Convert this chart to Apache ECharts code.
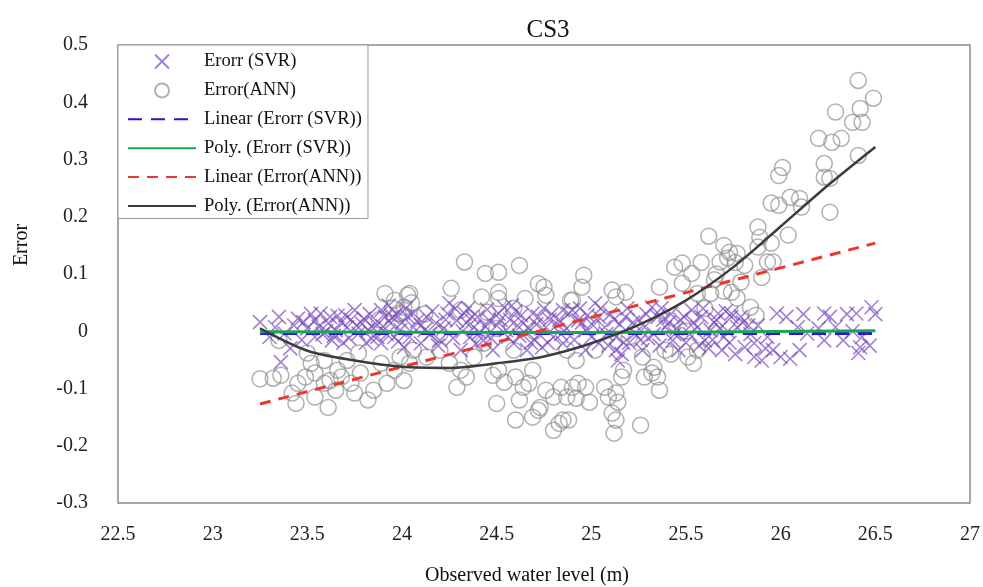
<!DOCTYPE html>
<html>
<head>
<meta charset="utf-8">
<script src="https://cdn.jsdelivr.net/npm/echarts@6/dist/echarts.min.js"></script>
<style>
  html, body { margin: 0; padding: 0; background: #fff; overflow: hidden; }
  #main { width: 983px; height: 587px; }
</style>
</head>
<body>
<div id="main"></div>
<script>
// scatter points: [water level, error]
var svrErr = [
  [23.25,0.016],[23.35,0.025],[23.33,0.007],[23.38,-0.004],[23.41,-0.03],[23.36,-0.054],[23.48,0.016],[23.54,0.019],
  [23.57,0.031],[23.61,0.014],[23.65,0.002],[23.68,0.016],[23.71,0.007],[23.75,0.037],[23.77,-0.004],[23.82,0.002],
  [23.86,0.014],[23.89,0.037],[23.91,0.025],[23.94,0.014],[23.96,-0.01],[23.99,0.002],[24.03,0.025],[24.06,0.007],
  [23.54,-0.01],[23.63,-0.016],[23.89,-0.021],[24.01,-0.028],[23.5,0.005],[23.58,-0.005],[23.66,0.027],[23.72,-0.012],
  [23.8,0.022],[23.84,-0.013],[23.93,0.045],[23.97,0.03],[24.0,0.015],[23.6,0.0],[23.7,0.028],[23.45,0.022],
  [23.85,0.005],[23.92,-0.005],[23.79,0.013],
  [23.3,-0.01],[23.43,0.01],[23.47,-0.015],[23.52,0.03],[23.56,0.008],[23.62,0.025],[23.64,-0.008],[23.69,-0.02],
  [23.73,0.02],[23.76,0.01],[23.81,-0.02],[23.83,0.03],[23.87,-0.01],[23.9,0.008],[23.95,0.025],[23.98,-0.018],
  [24.06,0.031],[24.13,0.025],[24.18,0.014],[24.24,0.031],[24.29,0.019],[24.33,0.031],[24.38,0.007],[24.43,-0.016],
  [24.46,0.019],[24.51,0.031],[24.55,0.002],[24.59,-0.021],[24.64,0.014],[24.69,0.031],[24.72,0.025],[24.76,0.007],
  [24.8,-0.01],[24.85,0.037],[24.88,0.031],[24.1,-0.021],[24.2,-0.016],[24.31,-0.033],[24.36,-0.01],[24.48,-0.033],
  [24.66,-0.033],[24.74,-0.028],[24.85,-0.021],[24.25,0.049],[24.54,0.042],[24.1,0.01],[24.15,-0.005],[24.22,0.005],
  [24.27,-0.012],[24.34,0.015],[24.4,0.025],[24.41,-0.002],[24.5,0.01],[24.57,0.02],[24.62,-0.008],[24.67,0.005],
  [24.7,-0.015],[24.78,0.02],[24.82,0.012],[24.84,-0.005],[24.45,0.038],[24.35,0.04],[24.6,0.035],
  [24.02,0.04],[24.04,-0.01],[24.08,0.018],[24.12,0.002],[24.16,0.035],[24.19,-0.025],[24.23,0.02],[24.28,0.04],
  [24.32,0.0],[24.37,0.025],[24.39,-0.022],[24.44,0.008],[24.47,-0.012],[24.52,0.02],[24.56,-0.01],[24.58,0.045],
  [24.61,0.01],[24.63,0.028],[24.68,-0.02],[24.71,0.012],[24.75,0.04],[24.77,-0.02],[24.79,0.03],[24.83,0.02],
  [24.87,0.005],
  [24.9,0.037],[24.93,0.019],[24.97,0.002],[25.02,0.049],[25.04,0.025],[25.07,0.007],[25.13,-0.01],[25.13,-0.033],
  [25.14,-0.051],[25.18,0.025],[25.23,-0.004],[25.28,0.007],[25.32,0.042],[25.35,0.025],[25.39,0.007],[25.43,-0.016],
  [25.46,-0.033],[25.49,0.025],[25.53,0.037],[25.56,0.007],[25.6,-0.016],[25.63,0.002],[25.67,0.031],[25.7,-0.01],
  [25.74,0.025],[24.97,-0.033],[25.27,-0.033],[25.69,-0.033],[25.04,-0.021],[24.95,0.015],[25.0,-0.01],[25.1,0.03],
  [25.15,0.012],[25.2,-0.02],[25.25,0.02],[25.3,-0.012],[25.37,0.04],[25.41,0.015],[25.45,0.005],[25.52,-0.005],
  [25.58,0.025],[25.62,-0.03],[25.65,0.015],[25.72,0.0],[25.09,-0.025],[25.16,-0.04],[25.47,0.02],
  [24.91,-0.015],[24.94,0.04],[24.98,0.028],[25.01,0.01],[25.05,0.04],[25.08,-0.005],[25.12,0.02],[25.17,-0.02],
  [25.19,0.04],[25.22,0.015],[25.26,-0.015],[25.29,0.03],[25.33,-0.005],[25.36,-0.025],[25.38,0.02],[25.42,0.03],
  [25.44,-0.005],[25.5,-0.02],[25.54,0.015],[25.57,-0.025],[25.59,0.04],[25.64,-0.015],[25.66,0.02],[25.68,0.005],
  [25.71,0.035],[25.73,-0.02],[25.76,-0.04],[25.79,0.025],[25.83,0.01],
  [25.74,0.031],[25.77,0.007],[25.81,-0.028],[25.86,-0.045],[25.9,-0.051],[25.93,-0.01],[25.98,0.031],[26.03,0.025],
  [26.09,0.007],[26.1,-0.033],[25.96,-0.033],[26.23,0.031],[26.26,0.025],[26.23,-0.016],[26.29,0.007],[26.4,0.031],
  [26.43,-0.01],[26.42,-0.028],[26.41,-0.038],[26.48,0.042],[26.14,-0.004],[25.86,-0.021],[26.33,-0.016],[25.8,0.015],
  [25.84,-0.005],[25.88,0.01],[25.92,-0.03],[26.0,-0.045],[26.05,-0.048],[26.12,0.03],[26.2,0.005],[26.35,0.03],
  [26.47,-0.025],[26.5,0.03],[26.38,0.0]
];

var annErr = [
  [23.25,-0.083],[23.32,-0.082],[23.36,-0.077],[23.35,-0.016],[23.42,-0.108],[23.45,-0.091],[23.44,-0.126],[23.5,-0.038],
  [23.52,-0.056],[23.54,-0.073],[23.49,-0.08],[23.54,-0.115],[23.59,-0.051],[23.61,-0.133],[23.62,-0.086],[23.59,-0.091],
  [23.66,-0.068],[23.65,-0.103],[23.68,-0.08],[23.71,-0.051],[23.73,-0.091],[23.75,-0.108],[23.78,-0.073],[23.82,-0.12],
  [23.85,-0.103],[23.77,-0.038],[23.91,0.066],[24.03,0.063],[23.96,0.054],[23.89,-0.056],[23.92,-0.091],[23.96,-0.068],
  [23.99,-0.045],[24.01,-0.086],[24.04,-0.056],[23.98,0.031],[24.01,0.042],[23.95,0.04],[24.05,0.05],[23.88,0.02],
  [24.12,0.03],
  [24.33,0.121],[24.44,0.101],[24.51,0.103],[24.62,0.115],[24.26,0.075],[24.04,0.066],[24.42,0.06],[24.51,0.068],
  [24.51,0.057],[24.65,0.057],[24.72,0.083],[24.75,0.077],[24.76,0.063],[24.89,0.054],[24.31,0.037],[24.45,0.033],
  [24.59,0.04],[24.06,-0.033],[24.13,-0.045],[24.2,-0.033],[24.25,-0.056],[24.31,-0.068],[24.34,-0.08],[24.29,-0.098],
  [24.48,-0.077],[24.51,-0.068],[24.54,-0.089],[24.5,-0.126],[24.6,-0.08],[24.64,-0.098],[24.62,-0.12],[24.67,-0.091],
  [24.69,-0.068],[24.6,-0.155],[24.69,-0.15],[24.72,-0.138],[24.73,-0.133],[24.76,-0.103],[24.8,-0.115],[24.84,-0.098],
  [24.87,-0.115],[24.8,-0.173],[24.83,-0.161],[24.85,-0.155],[24.9,-0.098],[24.43,-0.021],[24.59,-0.033],[24.38,-0.045],
  [24.2,-0.005],[24.5,0.005],[24.7,0.0],
  [24.96,0.098],[24.95,0.077],[25.11,0.072],[25.18,0.068],[25.13,0.06],[24.9,0.054],[25.36,0.077],[25.44,0.112],
  [25.48,0.119],[25.53,0.101],[25.48,0.084],[25.68,0.121],[25.72,0.128],[25.56,0.066],[25.63,0.066],[24.87,-0.033],
  [24.92,-0.051],[24.93,-0.091],[24.97,-0.098],[24.92,-0.117],[24.99,-0.124],[25.07,-0.098],[25.09,-0.115],[25.13,-0.108],
  [25.11,-0.143],[25.13,-0.155],[25.12,-0.178],[25.14,-0.124],[25.16,-0.08],[25.17,-0.068],[25.26,-0.164],[25.28,-0.08],
  [25.32,-0.073],[25.35,-0.08],[25.36,-0.103],[25.33,-0.063],[25.27,-0.045],[25.39,-0.033],[25.51,-0.045],[25.54,-0.056],
  [25.56,-0.033],[25.02,-0.033],[24.88,-0.155],[25.0,0.01],[25.2,-0.01],[25.5,0.0],[25.6,0.04],[25.65,0.09],
  [25.62,0.166],[25.58,0.12],[25.66,0.1],[25.7,0.07],[25.76,0.12],[25.42,-0.04],
  [26.41,0.438],[26.49,0.407],[26.29,0.383],[26.42,0.389],[26.38,0.365],[26.43,0.365],[26.2,0.337],[26.27,0.33],
  [26.32,0.337],[26.41,0.307],[26.23,0.293],[26.23,0.269],[26.26,0.267],[26.26,0.208],[26.01,0.286],[25.99,0.272],
  [25.95,0.224],[25.99,0.22],[26.05,0.234],[26.1,0.232],[26.11,0.217],[26.04,0.168],[25.88,0.182],[25.89,0.164],
  [25.88,0.147],[25.95,0.154],[25.96,0.121],[25.93,0.121],[25.73,0.138],[25.77,0.136],[25.7,0.15],[25.81,0.115],
  [25.9,0.094],[25.79,0.086],[25.74,0.068],[25.77,0.058],[25.84,0.042],[25.87,0.028]
];

// trend lines, values read at these water levels
var trendX = [23.25, 23.5, 23.75, 24, 24.25, 24.5, 24.75, 25, 25.25, 25.5, 25.75, 26, 26.25, 26.5];
var polyAnnY = [0.005, -0.034, -0.051, -0.062, -0.064, -0.056, -0.044, -0.021, 0.011, 0.054, 0.112, 0.183, 0.255, 0.322];
var linEnds = [23.25, 26.5];
var linAnnY = [-0.127, 0.154];
var linSvrY = [-0.004, -0.004];
var polySvrX = [23.25, 24.9, 26.5];
var polySvrY = [-0.001, -0.002, 0.001];

var xTicks = [22.5, 27];
var yTicks = [-0.3, 0.5];

function pairs(xs, ys) {
  return xs.map(function (x, i) { return [x, ys[i]]; });
}

var serif = '"Liberation Serif", "DejaVu Serif", serif';
var noDot = { opacity: 0 };

var myChart = echarts.init(document.getElementById('main'), null, { width: 983, height: 587 });
var option = {
  backgroundColor: '#fff',
  animation: false,
  textStyle: { fontFamily: serif },
  grid: {
    left: 118, top: 45, width: 860, height: 458,
    show: true, borderColor: '#8c8c8c', borderWidth: 1.5, backgroundColor: '#fff'
  },
  xAxis: {
    type: 'value', min: xTicks[0], max: xTicks[1], interval: 0.5,
    axisLine: { show: false }, axisTick: { show: false }, splitLine: { show: false },
    axisLabel: { fontFamily: serif, fontSize: 20, color: '#222', margin: 22 }
  },
  yAxis: {
    type: 'value', min: yTicks[0], max: yTicks[1], interval: 0.1,
    axisLine: { show: false }, axisTick: { show: false }, splitLine: { show: false },
    axisLabel: {
      fontFamily: serif, fontSize: 20, color: '#222', margin: 30,
      formatter: function (v) { return String(Math.round(v * 10) / 10); }
    }
  },
  legend: {
    orient: 'vertical', left: 118, top: 45,
    itemWidth: 68, itemHeight: 14, itemGap: 9.9,
    padding: [7, 6, 3, 9],
    backgroundColor: '#fff', borderColor: '#999', borderWidth: 1,
    textStyle: { fontFamily: serif, fontSize: 18.6, color: '#111', padding: [0, 0, 0, 3] },
    data: [
      { name: 'Erorr (SVR)' },
      { name: 'Error(ANN)' },
      { name: 'Linear (Erorr (SVR))', itemStyle: noDot },
      { name: 'Poly. (Erorr (SVR))', itemStyle: noDot },
      { name: 'Linear (Error(ANN))', itemStyle: noDot },
      { name: 'Poly. (Error(ANN))', itemStyle: noDot }
    ]
  },
  graphic: [
    { type: 'text', x: 548, y: 30, style: { text: 'CS3', font: '25px ' + serif, fill: '#111', align: 'center', verticalAlign: 'middle' } },
    { type: 'text', x: 22, y: 245, rotation: Math.PI / 2, style: { text: 'Error', font: '20px ' + serif, fill: '#111', align: 'center', verticalAlign: 'middle' } },
    { type: 'text', x: 527, y: 576, style: { text: 'Observed water level (m)', font: '20px ' + serif, fill: '#111', align: 'center', verticalAlign: 'middle' } }
  ],
  series: [
    {
      name: 'Erorr (SVR)', type: 'scatter', z: 2,
      symbol: 'path://M0,0L10,10M10,0L0,10', symbolSize: 14,
      itemStyle: { color: 'none', borderColor: 'rgba(120,70,190,0.85)', borderWidth: 1.6 },
      data: svrErr
    },
    {
      name: 'Error(ANN)', type: 'scatter', z: 1,
      symbol: 'circle', symbolSize: 16,
      itemStyle: { color: 'rgba(0,0,0,0)', borderColor: 'rgba(140,140,140,0.85)', borderWidth: 1.5 },
      data: annErr
    },
    {
      name: 'Linear (Erorr (SVR))', type: 'line', z: 3, showSymbol: false, symbol: 'none',
      lineStyle: { color: '#2a14d6', width: 3, type: [14, 9] },
      itemStyle: { color: '#2a14d6' },
      data: pairs(linEnds, linSvrY)
    },
    {
      name: 'Poly. (Erorr (SVR))', type: 'line', z: 4, showSymbol: false, symbol: 'none', smooth: 0.3,
      lineStyle: { color: '#1aa55a', width: 3 },
      itemStyle: { color: '#1aa55a' },
      data: pairs(polySvrX, polySvrY)
    },
    {
      name: 'Linear (Error(ANN))', type: 'line', z: 5, showSymbol: false, symbol: 'none',
      lineStyle: { color: '#e8392f', width: 3, type: [11, 8] },
      itemStyle: { color: '#e8392f' },
      data: pairs(linEnds, linAnnY)
    },
    {
      name: 'Poly. (Error(ANN))', type: 'line', z: 6, showSymbol: false, symbol: 'none', smooth: 0.3,
      lineStyle: { color: '#3c3c3c', width: 2.5 },
      itemStyle: { color: '#3c3c3c' },
      data: pairs(trendX, polyAnnY)
    }
  ]
};
myChart.setOption(option);
</script>
</body>
</html>
